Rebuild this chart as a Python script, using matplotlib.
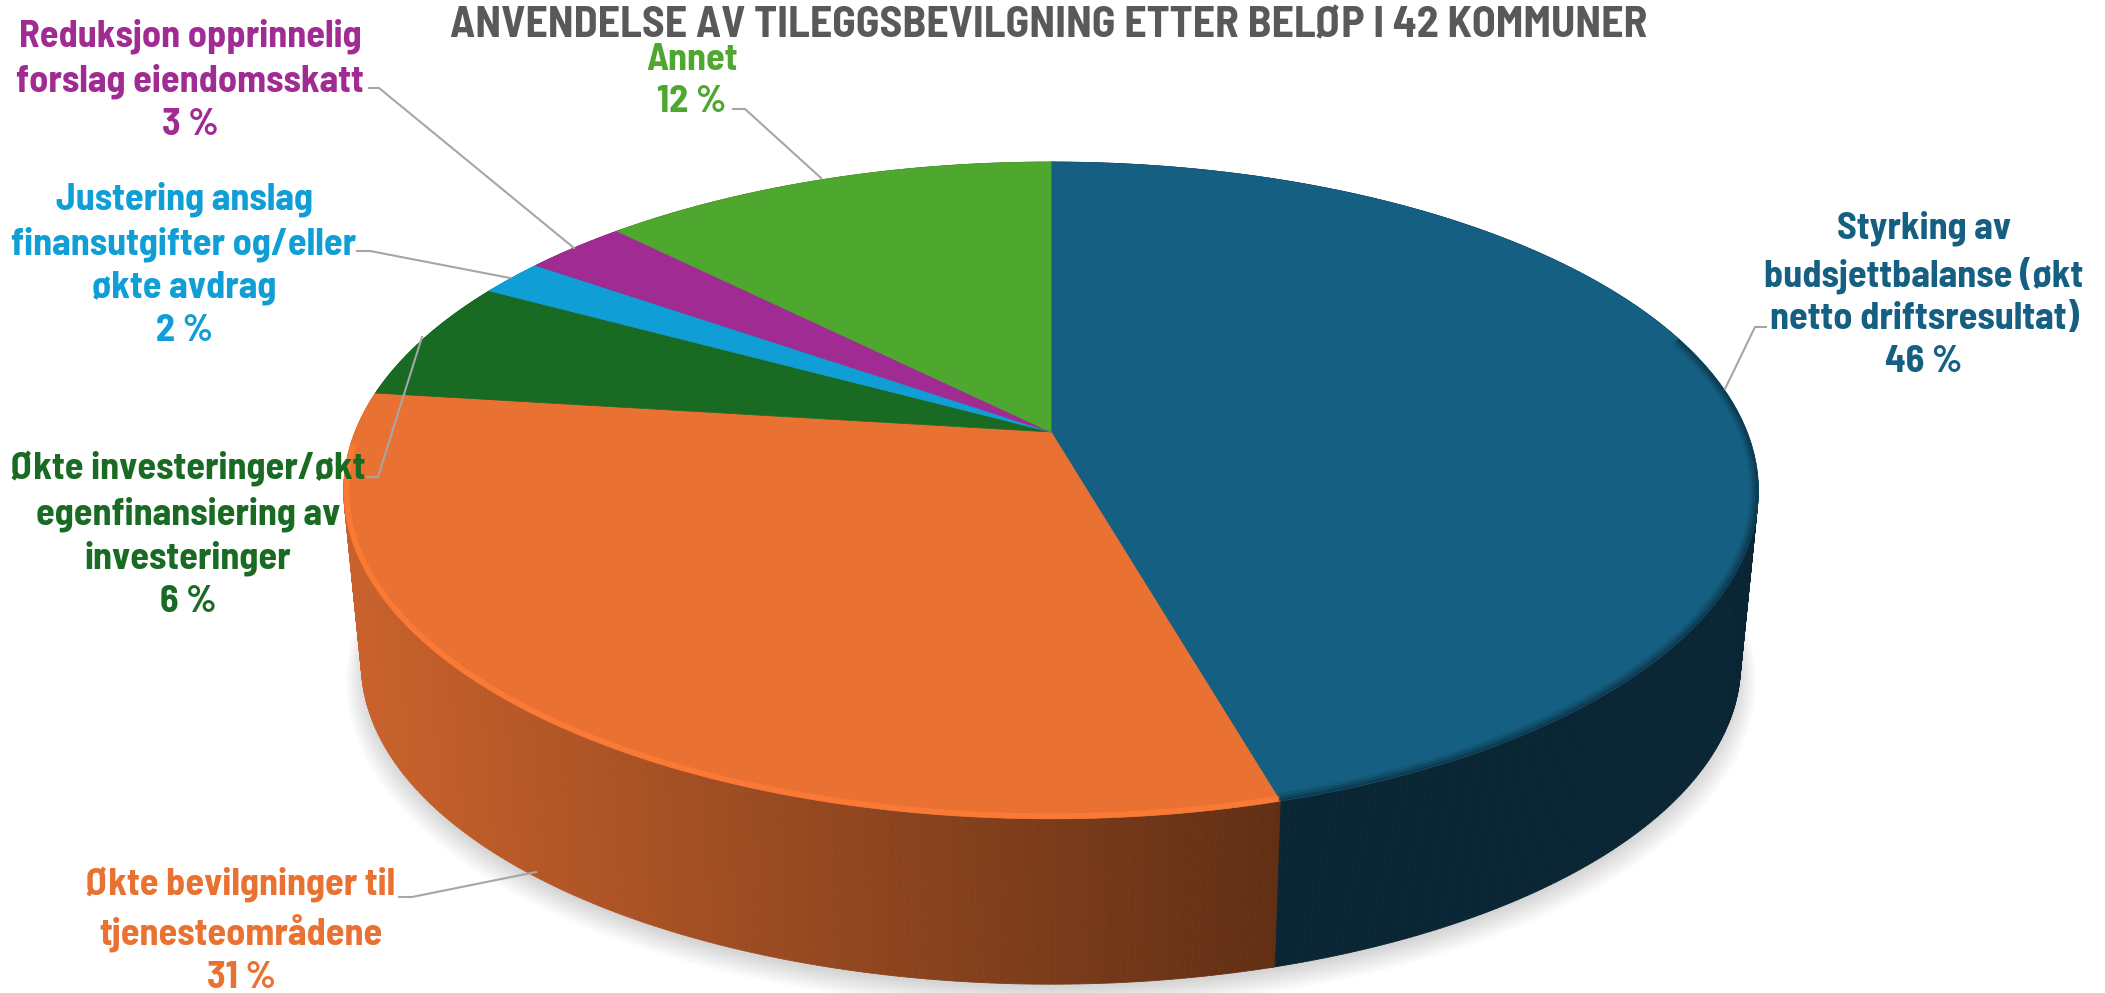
import numpy as np
import matplotlib
matplotlib.use("Agg")
import matplotlib.pyplot as plt
from matplotlib.collections import PolyCollection
from matplotlib.colors import to_rgb

plt.rcParams['font.family'] = ['Barlow Semi Condensed', 'Lato', 'DejaVu Sans']

title = "ANVENDELSE AV TILEGGSBEVILGNING ETTER BELØP I 42 KOMMUNER"

# shares, clockwise from 12 o'clock
categories = [
    "Styrking av\nbudsjettbalanse (økt\nnetto driftsresultat)",
    "Økte bevilgninger til\ntjenesteområdene",
    "Økte investeringer/økt\negenfinansiering av\ninvesteringer",
    "Justering anslag\nfinansutgifter og/eller\nøkte avdrag",
    "Reduksjon opprinnelig\nforslag eiendomsskatt",
    "Annet",
]
shares = [45.6, 31.4, 6.0, 1.8, 2.8, 12.4]
percent_labels = ["46 %", "31 %", "6 %", "2 %", "3 %", "12 %"]
colors = ["#156082", "#E97132", "#196B24", "#0F9ED5", "#A02B93", "#4EA72E"]

# label centres in pixels
label_pos = [(1924, 295), (241, 931), (188, 535), (184, 265), (190, 80), (692, 81)]

# leader lines in pixels
leaders = [
    [(1766, 327), (1755, 327), (1725, 389)],
    [(399, 897), (412, 897), (536, 872)],
    [(367, 477), (378, 477), (422, 337)],
    [(357, 251), (370, 251), (510, 278)],
    [(369, 88), (379, 88), (574, 248)],
    [(733, 109), (745, 109), (821, 178)],
]

# perspective disc
CX, CY = 1051, 432
A, B, K = 696, 318, 0.178
BOTTOM_CY, BOTTOM_S = 607, 0.975


def project(theta, cy=CY, s=1.0):
    t = np.radians(theta)
    u, v = np.sin(t), np.cos(t)
    d = 1 + K * v
    return CX + s * A * u / d, cy - s * B * v / d


def blend(c1, c2, f):
    c1, c2 = np.array(to_rgb(c1)), np.array(to_rgb(c2))
    return tuple(c1 + (c2 - c1) * f)


fig = plt.figure(figsize=(21.05, 9.93), dpi=100)
ax = fig.add_axes([0, 0, 1, 1])
ax.set_xlim(0, 2105)
ax.set_ylim(993, 0)
ax.axis("off")

edges = np.concatenate([[0], np.cumsum(shares)]) * 3.6

# soft shadow under the disc
all_t = np.linspace(0, 360, 361)
for i in range(14):
    x, y = project(all_t, cy=BOTTOM_CY + 5, s=BOTTOM_S + 0.002 * (i - 2))
    y = y + i * 0.9
    ax.fill(x, y, color="black", alpha=0.012, lw=0, zorder=1)

# side wall, split in thin strips so it can carry a gradient
for i in range(len(shares)):
    ts = np.arange(edges[i], edges[i + 1] + 0.5, 0.5)
    polys, cols = [], []
    for t0, t1 in zip(ts[:-1], ts[1:]):
        x0, y0 = project(t0)
        x1, y1 = project(t1)
        x2, y2 = project(t1, BOTTOM_CY, BOTTOM_S)
        x3, y3 = project(t0, BOTTOM_CY, BOTTOM_S)
        polys.append([(x0, y0), (x1, y1), (x2, y2), (x3, y3)])
        f = np.clip((x0 - 360) / (1280 - 360), 0, 1)
        if i == 0:
            cols.append("#0A2635")
        else:
            cols.append(blend(colors[i], "#000000", 0.14 + 0.44 * f))
    ax.add_collection(PolyCollection(polys, facecolors=cols, edgecolors=cols,
                                     linewidths=0.6, zorder=2))

# top surface
for i in range(len(shares)):
    ts = np.arange(edges[i], edges[i + 1] + 0.25, 0.25)
    ts[-1] = edges[i + 1]
    x, y = project(ts)
    ax.fill(np.r_[CX, x], np.r_[CY, y], color=colors[i], lw=0.5, zorder=3)

xd, yd = project(all_t)
disc = ax.fill(xd, yd, facecolor="none", lw=0, zorder=3)[0]

# rim: bright bevel on the orange part, soft dark edge on the blue part
ts = np.arange(edges[1], edges[2] + 0.25, 0.25)
x, y = project(ts)
mask = ts < 268
line, = ax.plot(x[mask], y[mask], color="#FF7C35", lw=8, alpha=0.8, zorder=4,
                solid_capstyle="butt")
line.set_clip_path(disc)
ts = np.arange(72, edges[1] + 0.25, 0.25)
x, y = project(ts)
for lw, alpha in [(12, 0.15), (8, 0.25), (4, 0.35)]:
    line, = ax.plot(x, y, color="#0A2635", lw=lw, alpha=alpha, zorder=4, solid_capstyle="butt")
    line.set_clip_path(disc)

# leader lines
for pts in leaders:
    ax.plot(*zip(*pts), color="#A6A6A6", lw=1.5, zorder=5, solid_joinstyle="miter")

# labels
for name, pct, col, (x, y) in zip(categories, percent_labels, colors, label_pos):
    ax.text(x, y, name + "\n" + pct, color=col, fontsize=27.5, fontweight=700,
            ha="center", va="center", linespacing=1.33, zorder=6)

ax.text(1049, 26, title, color="#595959", fontsize=31.5, fontweight=700,
        ha="center", va="center", zorder=6)

fig.savefig("out.png", dpi=100, facecolor="white")
